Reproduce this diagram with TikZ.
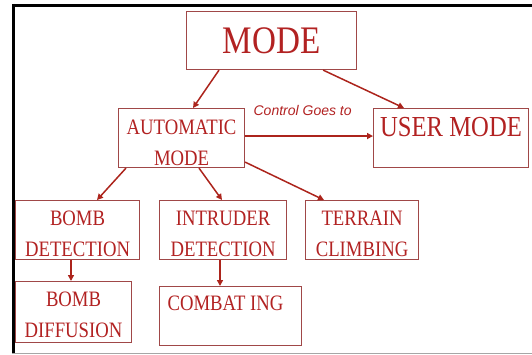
\documentclass[tikz,border=0pt]{standalone}
\usepackage{fontspec}
\setmainfont{Liberation Serif}[FakeStretch=0.85]
\newfontfamily\ctlfont{Liberation Sans}
\usetikzlibrary{arrows.meta}
\definecolor{txtred}{RGB}{178,34,34}
\definecolor{boxred}{RGB}{160,72,72}
\definecolor{arrred}{RGB}{172,36,28}

\begin{document}
\begin{tikzpicture}[x=1pt, y=-1pt,
	box/.style={draw=boxred, line width=1.1pt, inner sep=0pt, anchor=north west},
	lbl/.style={text=txtred, font=\fontsize{22}{31}\selectfont, align=center, inner sep=0pt, anchor=north},
	flow/.style={draw=arrred, line width=1.5pt, -{Triangle[length=6pt,width=6pt]}}]

	\useasboundingbox (0,0) rectangle (532,355);

	% Frame
	\draw[line width=3pt] (12,5.5) -- (532,5.5);
	\draw[line width=3pt] (13.5,4) -- (13.5,353);
	\draw[gray!70, line width=1.5pt] (12,353.5) -- (532,353.5);

	% Mode
	\node[box, minimum width=170pt, minimum height=58pt, text=txtred, font=\fontsize{39}{39}\selectfont] (mode) at (186,11) {MODE};

	% Automatic / user
	\node[box, minimum width=126pt, minimum height=59pt] (auto) at (118,108) {};
	\node[lbl] (autotxt) at ([yshift=-12pt]auto.north) {AUTOMATIC\\MODE};
	\node[box, minimum width=155pt, minimum height=59pt] (user) at (373,108) {};
	\node[lbl, font=\fontsize{29}{29}\selectfont] (usertxt) at ([yshift=-9pt]user.north) {USER MODE};

	% Tasks
	\node[box, minimum width=124pt, minimum height=59pt] (bombdet) at (15,200) {};
	\node[lbl] (bombdettxt) at ([yshift=-11pt]bombdet.north) {BOMB\\DETECTION};
	\node[box, minimum width=127pt, minimum height=59pt] (intruder) at (159,200) {};
	\node[lbl] (intrudertxt) at ([yshift=-11pt]intruder.north) {INTRUDER\\DETECTION};
	\node[box, minimum width=113pt, minimum height=59pt] (terrain) at (305,200) {};
	\node[lbl] (terraintxt) at ([yshift=-11pt]terrain.north) {TERRAIN\\CLIMBING};

	% Actions
	\node[box, minimum width=116pt, minimum height=61pt] (bombdif) at (15,281) {};
	\node[lbl] (bombdiftxt) at ([yshift=-11pt]bombdif.north) {BOMB\\DIFFUSION};
	\node[box, minimum width=142pt, minimum height=59pt] (combat) at (159,286) {};
	\node[lbl] (combattxt) at ([xshift=-5pt,yshift=-10pt]combat.north) {COMBAT ING};

	% Arrows
	\draw[flow] ([xshift=33pt]mode.south west) -- ([xshift=75pt]auto.north west);
	\draw[flow] ([xshift=-34pt]mode.south east) -- ([xshift=31pt]user.north west);
	\draw[flow] ([yshift=2pt]auto.east) -- node[pos=0.45, anchor=base, yshift=21pt, text=txtred, font=\ctlfont\itshape\fontsize{14}{14}\selectfont] (ctl) {Control Goes to} ([yshift=2pt]user.west);
	\draw[flow] ([xshift=8pt]auto.south west) -- ([xshift=82pt]bombdet.north west);
	\draw[flow] ([xshift=81pt]auto.south west) -- ([xshift=63pt]intruder.north west);
	\draw[flow] ([yshift=6pt]auto.south east) -- ([xshift=19pt]terrain.north west);
	\draw[flow] ([xshift=56pt]bombdet.south west) -- ([xshift=56pt]bombdif.north west);
	\draw[flow] ([xshift=61pt]intruder.south west) -- ([xshift=61pt]combat.north west);

\end{tikzpicture}
\end{document}
